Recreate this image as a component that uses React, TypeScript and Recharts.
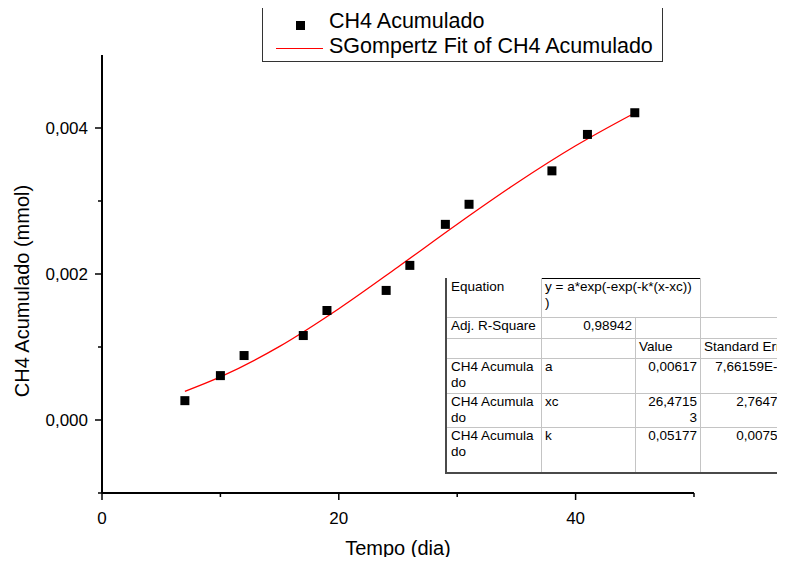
import React from 'react';
import { ComposedChart, Scatter, Line, XAxis, YAxis } from 'recharts';

// measured points (Tempo in days, CH4 in mmol)
const tempo = [7, 10, 12, 17, 19, 24, 26, 29, 31, 38, 41, 45];
const ch4 = [0.000265, 0.000608, 0.000883, 0.001157, 0.0015, 0.001775, 0.002118, 0.00268, 0.002955, 0.003413, 0.003912, 0.004209];

// SGompertz fit curve
const fitTempo = [7, 10, 15, 20, 25, 30, 35, 40, 45];
const fitCh4 = [0.000393, 0.000591, 0.001009, 0.001525, 0.002097, 0.002682, 0.003243, 0.003756, 0.004206];

const xTicks = [0, 10, 20, 30, 40, 50];
const xLabelled = [0, 20, 40];
const yTicks = [-0.001, 0, 0.001, 0.002, 0.003, 0.004];
const yLabelled = [0, 0.002, 0.004];

const seriesName = 'CH4 Acumulado';
const fitName = 'SGompertz Fit of CH4 Acumulado';

// fit report table text
const tableRows: { text: string[]; align?: 'right' }[][] = [
  [{ text: ['Equation'] }, { text: ['y = a*exp(-exp(-k*(x-xc))', ')'] }],
  [{ text: ['Adj. R-Square'] }, { text: ['0,98942'], align: 'right' }, { text: [] }, { text: [] }],
  [{ text: [] }, { text: [] }, { text: ['Value'] }, { text: ['Standard Error'] }],
  [{ text: ['CH4 Acumula', 'do'] }, { text: ['a'] }, { text: ['0,00617'], align: 'right' }, { text: ['7,66159E-4'], align: 'right' }],
  [{ text: ['CH4 Acumula', 'do'] }, { text: ['xc'] }, { text: ['26,4715', '3'], align: 'right' }, { text: ['2,76471'], align: 'right' }],
  [{ text: ['CH4 Acumula', 'do'] }, { text: ['k'] }, { text: ['0,05177'], align: 'right' }, { text: ['0,00751'], align: 'right' }],
];

const points = tempo.map((t, i) => ({ x: t, y: ch4[i] }));
const fit = fitTempo.map((t, i) => ({ x: t, y: fitCh4[i] }));

const FONT = '"Liberation Sans", Arial, Helvetica, sans-serif';
const near = (list: number[], v: number) => list.some((l) => Math.abs(l - v) < 1e-9);
const fmtY = (v: number) => v.toFixed(3).replace('.', ',');

const XTick = (props: any) => {
  const { x, y, payload } = props;
  const major = near(xLabelled, payload.value);
  return (
    <g>
      <line x1={x} y1={y} x2={x} y2={y + (major ? 7 : 4)} stroke="#000" strokeWidth={1.5} />
      {major && (
        <text x={x} y={y + 31} textAnchor="middle" fontSize={17} fontFamily={FONT} fill="#000">
          {payload.value}
        </text>
      )}
    </g>
  );
};

const YTick = (props: any) => {
  const { x, y, payload } = props;
  const major = near(yLabelled, payload.value);
  return (
    <g>
      <line x1={x} y1={y} x2={x - (major ? 7 : 4)} y2={y} stroke="#000" strokeWidth={1.5} />
      {major && (
        <text x={x - 14} y={y} dy="0.36em" textAnchor="end" fontSize={17} fontFamily={FONT} fill="#000">
          {fmtY(payload.value)}
        </text>
      )}
    </g>
  );
};

const Square = (props: any) => {
  const { cx, cy } = props;
  if (cx == null || cy == null) return null;
  return <rect x={cx - 4.5} y={cy - 4.5} width={9} height={9} fill="#000" />;
};

// table layout
const colX = [447, 541, 635, 700, 788];
const rowY = [278, 317, 338, 358, 393, 427, 472];

const cellBox = (r: number, c: number, span: number) => ({
  left: colX[c],
  top: rowY[r],
  width: colX[c + span] - colX[c],
  height: rowY[r + 1] - rowY[r],
});

const FitTable = () => {
  const cells: React.ReactNode[] = [];
  tableRows.forEach((row, r) => {
    let c = 0;
    row.forEach((cell, k) => {
      const span = r === 0 && k === 1 ? 2 : 1;
      const b = cellBox(r, c, span);
      cells.push(
        <div
          key={`${r}-${k}`}
          style={{
            position: 'absolute',
            left: b.left,
            top: b.top,
            width: b.width,
            height: b.height,
            boxSizing: 'border-box',
            padding: '1px 3px 0 4px',
            textAlign: cell.align || 'left',
            fontSize: 13.5,
            lineHeight: '16px',
            whiteSpace: 'nowrap',
            color: '#000',
          }}
        >
          {cell.text.map((t, i) => (
            <div key={i}>{t}</div>
          ))}
        </div>
      );
      c += span;
    });
  });
  const grey = '#c4c4c4';
  const dark = '#4a4a4a';
  const lines = [
    // horizontal
    { l: 541, t: 278, w: 159, h: 1, c: '#000' },
    { l: 447, t: 317, w: 340, h: 1, c: grey },
    { l: 447, t: 338, w: 340, h: 1, c: grey },
    { l: 447, t: 358, w: 340, h: 1, c: grey },
    { l: 447, t: 393, w: 340, h: 1, c: grey },
    { l: 447, t: 427, w: 340, h: 1, c: grey },
    { l: 445, t: 472, w: 342, h: 2, c: dark },
    // vertical
    { l: 445, t: 278, w: 2, h: 196, c: dark },
    { l: 541, t: 278, w: 1, h: 194, c: grey },
    { l: 635, t: 317, w: 1, h: 155, c: grey },
    { l: 700, t: 278, w: 1, h: 194, c: grey },
  ];
  return (
    <>
      {lines.map((s, i) => (
        <div key={`l${i}`} style={{ position: 'absolute', left: s.l, top: s.t, width: s.w, height: s.h, background: s.c }} />
      ))}
      {cells}
    </>
  );
};

const LegendBox = () => (
  <div
    style={{
      position: 'absolute',
      left: 262,
      top: 7,
      width: 401,
      height: 55,
      boxSizing: 'border-box',
      border: '1px solid #333',
      fontSize: 21.5,
      color: '#000',
    }}
  >
    <div style={{ position: 'absolute', left: 33, top: 13, width: 9, height: 9, background: '#000' }} />
    <div style={{ position: 'absolute', left: 66, top: 2, lineHeight: '22px' }}>{seriesName}</div>
    <div style={{ position: 'absolute', left: 13, top: 40, width: 47, height: 1, background: '#ff0000' }} />
    <div style={{ position: 'absolute', left: 66, top: 27, lineHeight: '22px' }}>{fitName}</div>
  </div>
);

export default function App() {
  return (
    <div
      style={{
        position: 'relative',
        width: 785,
        height: 565,
        margin: -8,
        overflow: 'hidden',
        background: '#fff',
        fontFamily: FONT,
      }}
    >
      <ComposedChart width={785} height={565} margin={{ top: 55, right: 91, bottom: 0, left: 42 }}>
        <XAxis
          type="number"
          dataKey="x"
          domain={[0, 50]}
          ticks={xTicks}
          interval={0}
          allowDataOverflow
          height={72}
          tickSize={0}
          tickMargin={0}
          tickLine={false}
          tick={<XTick />}
          axisLine={{ stroke: '#000', strokeWidth: 2 }}
          label={{
            content: () => (
              <text x={398} y={555} textAnchor="middle" fontSize={20} fontFamily={FONT} fill="#000">
                Tempo (dia)
              </text>
            ),
          }}
        />
        <YAxis
          type="number"
          dataKey="y"
          domain={[-0.001, 0.005]}
          ticks={yTicks}
          interval={0}
          allowDataOverflow
          width={60}
          tickSize={0}
          tickMargin={0}
          tickLine={false}
          tick={<YTick />}
          axisLine={{ stroke: '#000', strokeWidth: 2 }}
          label={{
            content: () => (
              <text
                x={29}
                y={291}
                transform="rotate(-90 29 291)"
                textAnchor="middle"
                fontSize={20}
                fontFamily={FONT}
                fill="#000"
              >
                CH4 Acumulado (mmol)
              </text>
            ),
          }}
        />
        <Line
          data={fit}
          dataKey="y"
          type="monotone"
          stroke="#ff0000"
          strokeWidth={1.3}
          dot={false}
          activeDot={false}
          isAnimationActive={false}
          name={fitName}
        />
        <Scatter data={points} dataKey="y" shape={<Square />} isAnimationActive={false} name={seriesName} />
      </ComposedChart>
      <FitTable />
      <LegendBox />
    </div>
  );
}
